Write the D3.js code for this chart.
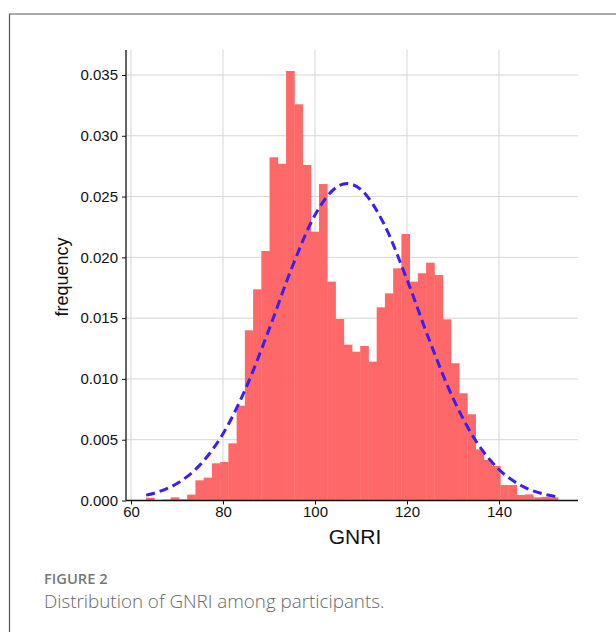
<!DOCTYPE html>
<html>
<head>
<meta charset="utf-8">
<script src="https://cdn.jsdelivr.net/npm/d3@7"></script>
<style>
  body { margin: 0; background: #fff; }
  svg { display: block; }
</style>
</head>
<body>
<svg id="chart" width="616" height="632"></svg>
<script>
// histogram of GNRI: 50 equal bins starting at binStart
const binStart = 63.26, binWidth = 1.791;
const density = [
  0.00023, 0, 0.00008, 0.00026, 0.0001, 0.00048, 0.00166, 0.00188, 0.00306, 0.00317,
  0.0047, 0.0078, 0.0140, 0.01737, 0.02052, 0.02823, 0.0277, 0.03533, 0.03259, 0.0276,
  0.02211, 0.02603, 0.0180, 0.01493, 0.01282, 0.01224, 0.01271, 0.01142, 0.01589, 0.01704,
  0.0191, 0.02192, 0.0180, 0.01869, 0.01956, 0.01855, 0.0149, 0.01129, 0.00882, 0.00709,
  0.00421, 0.00333, 0.00284, 0.00127, 0.00127, 0.00045, 0.0005, 0.00026, 0.0003, 0.00026
];
// fitted normal curve
const curveX = [63.3, 65, 70, 75, 80, 85, 90, 95, 100, 105, 107, 110, 115, 120, 125, 130, 135, 140, 145, 150, 152.8];
const curveY = [0.00044, 0.0006, 0.0014, 0.00293, 0.00549, 0.00927, 0.01406, 0.01917, 0.02348, 0.02585, 0.02607,
                0.02557, 0.02274, 0.01817, 0.01305, 0.00842, 0.00489, 0.00255, 0.00119, 0.0005, 0.0003];
const xTicks = [60, 80, 100, 120, 140];
const yTicks = [0, 0.005, 0.010, 0.015, 0.020, 0.025, 0.030, 0.035];

const svg = d3.select("#chart");
const axisFont = "'Liberation Sans', Arial, sans-serif";

// figure frame
svg.append("path").attr("d", "M9.5,632V14H616")
  .attr("fill", "none").attr("stroke", "#555").attr("stroke-width", 1.2);

const x = d3.scaleLinear().domain([60, 140]).range([131, 499]);
const y = d3.scaleLinear().domain([0, 0.035]).range([500.5, 75]);
const plotLeft = 126, plotRight = 578, plotTop = 50, plotBottom = 500.5;

// grid
const grid = svg.append("g").attr("stroke", "#d6d6d6").attr("stroke-width", 1);
xTicks.forEach(function(t){
  grid.append("line").attr("x1", x(t)).attr("x2", x(t)).attr("y1", plotTop).attr("y2", plotBottom);
});
yTicks.forEach(function(t){
  if (t > 0) grid.append("line").attr("x1", plotLeft).attr("x2", plotRight).attr("y1", y(t)).attr("y2", y(t));
});

// bars
svg.append("g").selectAll("rect").data(density).join("rect")
  .attr("x", function(d,i){ return x(binStart + i*binWidth); })
  .attr("width", function(d,i){ return x(binStart + (i+1)*binWidth) - x(binStart + i*binWidth) + 0.4; })
  .attr("y", function(d){ return y(d); })
  .attr("height", function(d){ return y(0) - y(d); })
  .attr("fill", "#ff6868");

// normal curve
const line = d3.line().curve(d3.curveMonotoneX)
  .x(function(d,i){ return x(curveX[i]); })
  .y(function(d){ return y(d); });
svg.append("path").datum(curveY).attr("d", line)
  .attr("fill", "none").attr("stroke", "#3a1ef2").attr("stroke-width", 3)
  .attr("stroke-dasharray", "9,5");

// axes
const xAxis = svg.append("g").attr("transform", "translate(0," + plotBottom + ")")
  .call(d3.axisBottom(x).tickValues(xTicks).tickSize(4).tickPadding(2).tickFormat(d3.format("d")));
xAxis.select(".domain").attr("d", "M" + plotLeft + ",0H" + plotRight);
const yAxis = svg.append("g").attr("transform", "translate(" + plotLeft + ",0)")
  .call(d3.axisLeft(y).tickValues(yTicks).tickSize(4).tickPadding(4).tickFormat(d3.format(".3f")));
yAxis.select(".domain").attr("d", "M0," + plotTop + "V" + plotBottom);
[xAxis, yAxis].forEach(function(a){
  a.attr("font-family", axisFont).attr("font-size", 15);
  a.selectAll("text").attr("fill", "#111");
  a.select(".domain").attr("stroke", "#111").attr("stroke-width", 1.3);
  a.selectAll(".tick line").attr("stroke", "#111");
});

// axis titles
svg.append("text").attr("x", 355).attr("y", 544).attr("text-anchor", "middle")
  .attr("font-family", axisFont).attr("font-size", 21).attr("fill", "#111")
  .text("GNRI");
svg.append("text").attr("transform", "translate(68,277) rotate(-90)").attr("text-anchor", "middle")
  .attr("font-family", axisFont).attr("font-size", 18).attr("fill", "#111")
  .text("frequency");

// caption
svg.append("text").attr("x", 44).attr("y", 584)
  .attr("font-family", "'Open Sans', sans-serif").attr("font-size", 14.7).attr("font-weight", 600).attr("fill", "#777")
  .text("FIGURE 2");
svg.append("text").attr("x", 44).attr("y", 608)
  .attr("font-family", "'Open Sans', sans-serif").attr("font-size", 18.8).attr("font-weight", 300).attr("fill", "#666")
  .text("Distribution of GNRI among participants.");
</script>
</body>
</html>
